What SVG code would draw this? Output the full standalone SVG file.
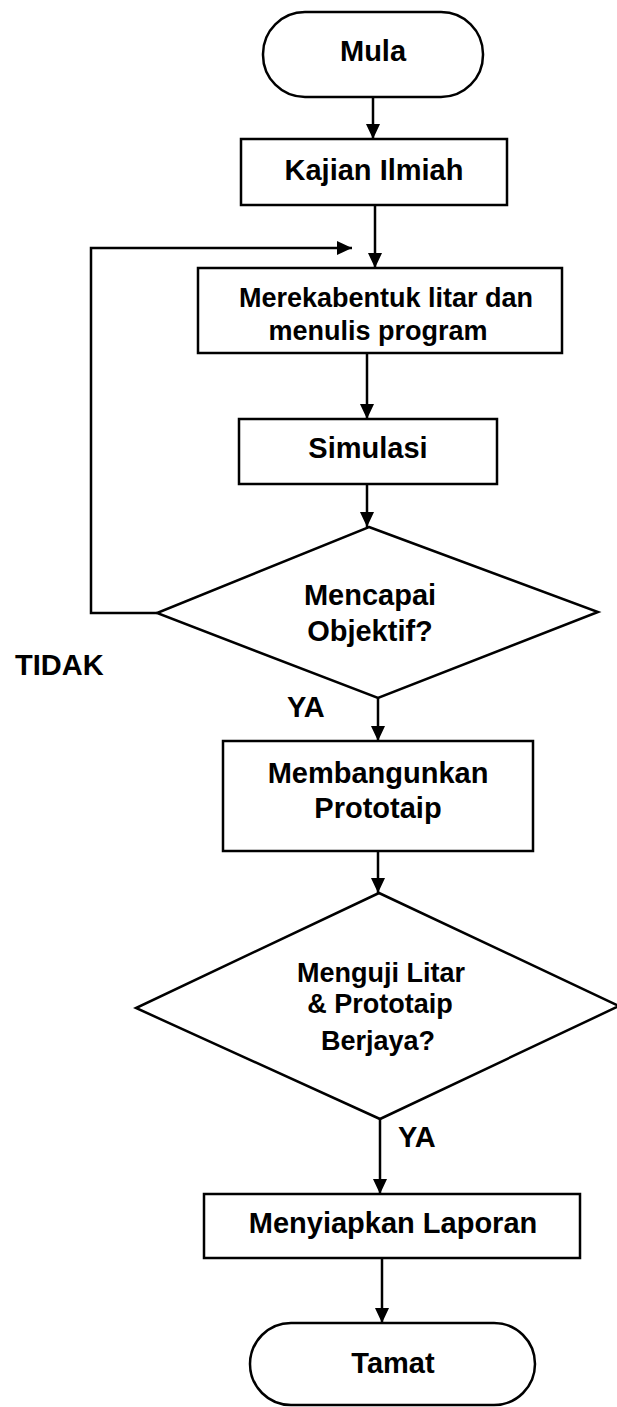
<svg xmlns="http://www.w3.org/2000/svg" width="617" height="1407" viewBox="0 0 617 1407">
<defs>
<style>
.s{fill:#fff;stroke:#000;stroke-width:2.5}
.c{fill:none;stroke:#000;stroke-width:2.5}
text{font-family:"Liberation Sans",Arial,sans-serif;font-size:29px;font-weight:bold;fill:#000;text-anchor:middle}
.l{text-anchor:start}
.m{font-size:27px}
</style>
<marker id="ah" markerUnits="userSpaceOnUse" markerWidth="16" markerHeight="16" viewBox="0 0 16 16" refX="15" refY="8" orient="auto">
<path d="M0,1 L15,8 L0,15 Z" fill="#000"/>
</marker>
</defs>
<rect width="617" height="1407" fill="#fff"/>
<g id="connectors">
<line class="c" x1="373" y1="97" x2="373" y2="139" marker-end="url(#ah)"/>
<line class="c" x1="375" y1="205" x2="375" y2="268" marker-end="url(#ah)"/>
<line class="c" x1="367" y1="353" x2="367" y2="419" marker-end="url(#ah)"/>
<line class="c" x1="367" y1="484" x2="367" y2="527" marker-end="url(#ah)"/>
<line class="c" x1="378" y1="698" x2="378" y2="741" marker-end="url(#ah)"/>
<line class="c" x1="378" y1="851" x2="378" y2="893" marker-end="url(#ah)"/>
<line class="c" x1="380" y1="1119" x2="380" y2="1194" marker-end="url(#ah)"/>
<line class="c" x1="382" y1="1258" x2="382" y2="1323" marker-end="url(#ah)"/>
<polyline class="c" points="157,613 91,613 91,248 352,248" marker-end="url(#ah)"/>
<text class="l" x="15" y="675">TIDAK</text>
<text class="l" x="287" y="717">YA</text>
<text class="l" x="398" y="1147">YA</text>
</g>
<g id="mula">
<rect class="s" x="263" y="12" width="220" height="85" rx="42" ry="42"/>
<text x="373" y="61">Mula</text>
</g>
<g id="kajian">
<rect class="s" x="241" y="139" width="266" height="66"/>
<text x="374" y="180">Kajian Ilmiah</text>
</g>
<g id="merekabentuk">
<rect class="s" x="198" y="268" width="364" height="85"/>
<text class="m" x="386" y="307">Merekabentuk litar dan</text>
<text class="m" x="378" y="340">menulis program</text>
</g>
<g id="simulasi">
<rect class="s" x="239" y="419" width="258" height="65"/>
<text x="368" y="458">Simulasi</text>
</g>
<g id="objektif">
<polygon class="s" points="369,527 598,612 378,698 157,613"/>
<text x="370" y="605">Mencapai</text>
<text x="370" y="641">Objektif?</text>
</g>
<g id="membangunkan">
<rect class="s" x="223" y="741" width="310" height="110"/>
<text x="378" y="783">Membangunkan</text>
<text x="378" y="818">Prototaip</text>
</g>
<g id="menguji">
<polygon class="s" points="379,893 619,1006 380,1119 136,1008"/>
<text class="m" x="381" y="982">Menguji Litar</text>
<text class="m" x="380" y="1013">&amp; Prototaip</text>
<text class="m" x="378" y="1050">Berjaya?</text>
</g>
<g id="laporan">
<rect class="s" x="204" y="1194" width="376" height="64"/>
<text x="393" y="1233">Menyiapkan Laporan</text>
</g>
<g id="tamat">
<rect class="s" x="250" y="1323" width="285" height="82" rx="41" ry="41"/>
<text x="393" y="1373">Tamat</text>
</g>
</svg>
